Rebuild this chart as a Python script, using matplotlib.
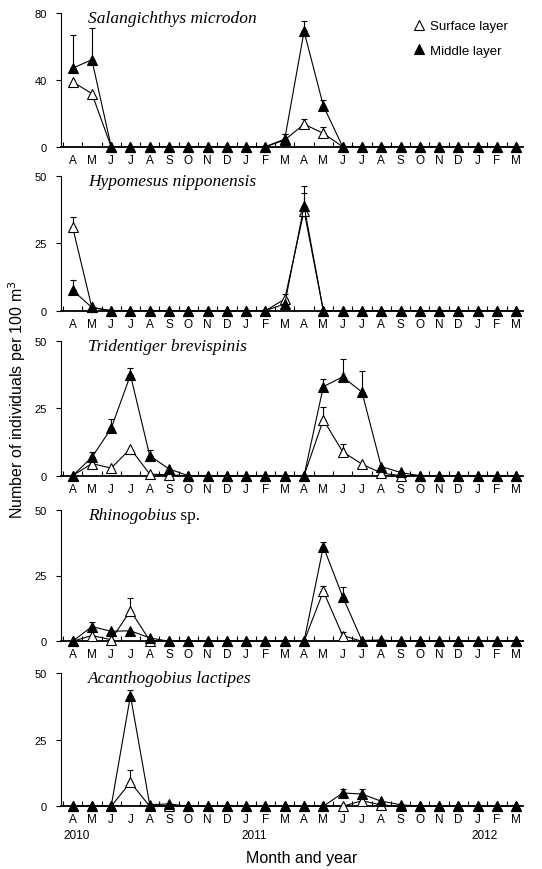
import numpy as np
import matplotlib.pyplot as plt
from matplotlib.lines import Line2D

# months from April 2010 to March 2012
months = ['A', 'M', 'J', 'J', 'A', 'S', 'O', 'N', 'D', 'J', 'F', 'M',
          'A', 'M', 'J', 'J', 'A', 'S', 'O', 'N', 'D', 'J', 'F', 'M']
years = ['2010', '2011', '2012']
year_pos = [0.2, 9.4, 21.35]

# Salangichthys microdon
sal_surf = [38.8, 31.8, 0, 0, 0, 0, 0, 0, 0, 0, 0, 4.0, 13.5, 8.0, 0, 0, 0, 0, 0, 0, 0, 0, 0, 0]
sal_surf_err = [0, 0, 0, 0, 0, 0, 0, 0, 0, 0, 0, 3.5, 3.0, 4.0, 0, 0, 0, 0, 0, 0, 0, 0, 0, 0]
sal_mid = [47, 52, 0, 0, 0, 0, 0, 0, 0, 0, 0, 4.6, 69, 24.5, 0, 0, 0, 0, 0, 0, 0, 0, 0, 0]
sal_mid_err = [20, 19, 0, 0, 0, 0, 0, 0, 0, 0, 0, 3.0, 6.0, 3.5, 0, 0, 0, 0, 0, 0, 0, 0, 0, 0]

# Hypomesus nipponensis
hyp_surf = [31, 1.2, 0, 0, 0, 0, 0, 0, 0, 0, 0, 4.3, 37, 0, 0, 0, 0, 0, 0, 0, 0, 0, 0, 0]
hyp_surf_err = [3.7, 0, 0, 0, 0, 0, 0, 0, 0, 0, 0, 2.0, 6.7, 0, 0, 0, 0, 0, 0, 0, 0, 0, 0, 0]
hyp_mid = [7.6, 1.2, 0, 0, 0, 0, 0, 0, 0, 0, 0, 2.5, 38.8, 0, 0, 0, 0, 0, 0, 0, 0, 0, 0, 0]
hyp_mid_err = [3.9, 0, 0, 0, 0, 0, 0, 0, 0, 0, 0, 0, 7.4, 0, 0, 0, 0, 0, 0, 0, 0, 0, 0, 0]

# Tridentiger brevispinis
tri_surf = [0, 4.5, 2.8, 10, 0.6, 0.3, 0, 0, 0, 0, 0, 0, 0, 20.7, 8.9, 4.3, 1.0, 0, 0, 0, 0, 0, 0, 0]
tri_surf_err = [0, 0, 0, 0, 0, 0, 0, 0, 0, 0, 0, 0, 0, 4.8, 2.8, 0, 0, 0, 0, 0, 0, 0, 0, 0]
tri_mid = [0, 6.8, 17.5, 37.3, 7.4, 2.5, 0, 0, 0, 0, 0, 0, 0, 33, 36.6, 31, 3.4, 1.2, 0, 0, 0, 0, 0, 0]
tri_mid_err = [0, 2.1, 3.5, 2.7, 2.2, 0, 0, 0, 0, 0, 0, 0, 0, 2.7, 6.7, 7.8, 0, 0, 0, 0, 0, 0, 0, 0]

# Rhinogobius sp.
rhi_surf = [0, 2.2, 0.6, 11.7, 0.3, 0, 0, 0, 0, 0, 0, 0, 0, 19, 2.2, 0, 0, 0, 0, 0, 0, 0, 0, 0]
rhi_surf_err = [0, 0, 0, 4.8, 0, 0, 0, 0, 0, 0, 0, 0, 0, 2.0, 1.5, 0, 0, 0, 0, 0, 0, 0, 0, 0]
rhi_mid = [0, 5.6, 3.8, 4.0, 1.3, 0, 0, 0, 0, 0, 0, 0, 0, 36, 17, 0.3, 0.5, 0, 0, 0, 0, 0, 0, 0]
rhi_mid_err = [0, 1.6, 0, 0, 0, 0, 0, 0, 0, 0, 0, 0, 0, 1.7, 3.6, 0, 0, 0, 0, 0, 0, 0, 0, 0]

# Acanthogobius lactipes
aca_surf = [0, 0, 0, 9, 0, 0.3, 0, 0, 0, 0, 0, 0, 0, 0, 0, 2.1, 0.5, 0, 0, 0, 0, 0, 0, 0]
aca_surf_err = [0, 0, 0, 4.5, 0, 0, 0, 0, 0, 0, 0, 0, 0, 0, 0, 0, 0, 0, 0, 0, 0, 0, 0, 0]
aca_mid = [0, 0, 0, 41.5, 0.6, 0.9, 0, 0, 0, 0, 0, 0, 0, 0, 5.0, 4.6, 1.9, 0.6, 0, 0, 0, 0, 0, 0]
aca_mid_err = [0, 0, 0, 2.2, 0, 0, 0, 0, 0, 0, 0, 0, 0, 0, 1.5, 1.9, 0, 0, 0, 0, 0, 0, 0, 0]

panels = [
    ('Salangichthys microdon', None, sal_surf, sal_surf_err, sal_mid, sal_mid_err, 80, [0, 40, 80]),
    ('Hypomesus nipponensis', None, hyp_surf, hyp_surf_err, hyp_mid, hyp_mid_err, 50, [0, 25, 50]),
    ('Tridentiger brevispinis', None, tri_surf, tri_surf_err, tri_mid, tri_mid_err, 50, [0, 25, 50]),
    ('Rhinogobius', ' sp.', rhi_surf, rhi_surf_err, rhi_mid, rhi_mid_err, 50, [0, 25, 50]),
    ('Acanthogobius lactipes', None, aca_surf, aca_surf_err, aca_mid, aca_mid_err, 50, [0, 25, 50]),
]

# axes boxes in pixels (top, bottom) on a 542x870 canvas
W, H = 542, 870
boxes = [(14, 147.7), (176.7, 311.7), (341.7, 476.7), (510.7, 642.3), (674, 807.3)]
left_px, right_px = 61, 523

plt.rcParams['font.family'] = ['Liberation Sans', 'DejaVu Sans']
fig = plt.figure(figsize=(W / 100, H / 100), dpi=100)

x = np.arange(len(months))


def draw_series(ax, vals, errs, face):
    vals = np.array(vals, dtype=float)
    errs = np.array(errs, dtype=float)
    ax.plot(x, vals, color='k', lw=0.8, marker='^', ms=7, mfc=face, mec='k',
            mew=0.8, clip_on=False, zorder=3 if face == 'white' else 4)
    m = errs > 0
    ax.errorbar(x[m], vals[m], yerr=[np.zeros(m.sum()), errs[m]], fmt='none',
                ecolor='k', elinewidth=0.8, capsize=2.5, capthick=0.8,
                clip_on=False, zorder=2)


axes = []
for (name, suffix, s, se, mdl, me, top, yt), (t, b) in zip(panels, boxes):
    ax = fig.add_axes([left_px / W, 1 - b / H, (right_px - left_px) / W, (b - t) / H])
    axes.append(ax)
    draw_series(ax, s, se, 'white')
    draw_series(ax, mdl, me, 'black')

    ax.set_xlim(-0.6, 23.35)
    ax.set_ylim(0, top)
    ax.set_yticks(yt)
    ax.set_xticks(x)
    ax.set_xticklabels(months)
    ax.set_xticks(np.arange(-0.5, 23, 1), minor=True)
    ax.tick_params(axis='x', which='major', length=0, pad=5, labelsize=8.5)
    ax.tick_params(axis='x', which='minor', direction='in', length=3.5, width=0.8)
    ax.tick_params(axis='y', direction='out', length=3.5, width=0.8, labelsize=8, pad=6.5)
    for sp in ['top', 'right']:
        ax.spines[sp].set_visible(False)
    ax.spines['left'].set_linewidth(0.8)
    ax.spines['bottom'].set_linewidth(1.3)

    txt = ax.text(0.058, 1.02, name, transform=ax.transAxes, ha='left', va='top',
                  fontsize=12.5, family=['Liberation Serif'], style='italic')
    if suffix:
        ax.annotate(suffix, xycoords=txt, xy=(1, 0), va='bottom', ha='left',
                    fontsize=12.5, family=['Liberation Serif'])

# legend in the first panel
handles = [Line2D([], [], ls='none', marker='^', ms=7, mfc='white', mec='k', mew=0.8),
           Line2D([], [], ls='none', marker='^', ms=7, mfc='black', mec='k', mew=0.8)]
axes[0].legend(handles, ['Surface layer', 'Middle layer'], loc='upper left',
               bbox_to_anchor=(414 / W, 1 - 21 / H), bbox_transform=fig.transFigure,
               frameon=False, fontsize=9.5, handlelength=0.8, handletextpad=0.4,
               labelspacing=0.95, borderpad=0, borderaxespad=0)

# year labels under the last panel
last = axes[-1]
for yr, p in zip(years, year_pos):
    last.text(p, -0.215, yr, transform=last.get_xaxis_transform(),
              ha='center', va='center', fontsize=8.5)

fig.text(302 / W, 1 - 859 / H, 'Month and year', ha='center', va='center', fontsize=11.5)
fig.text(17 / W, 1 - 400 / H, 'Number of individuals per 100 m$^3$', rotation=90,
         ha='center', va='center', fontsize=11.5)

fig.savefig('out.png', dpi=100)
